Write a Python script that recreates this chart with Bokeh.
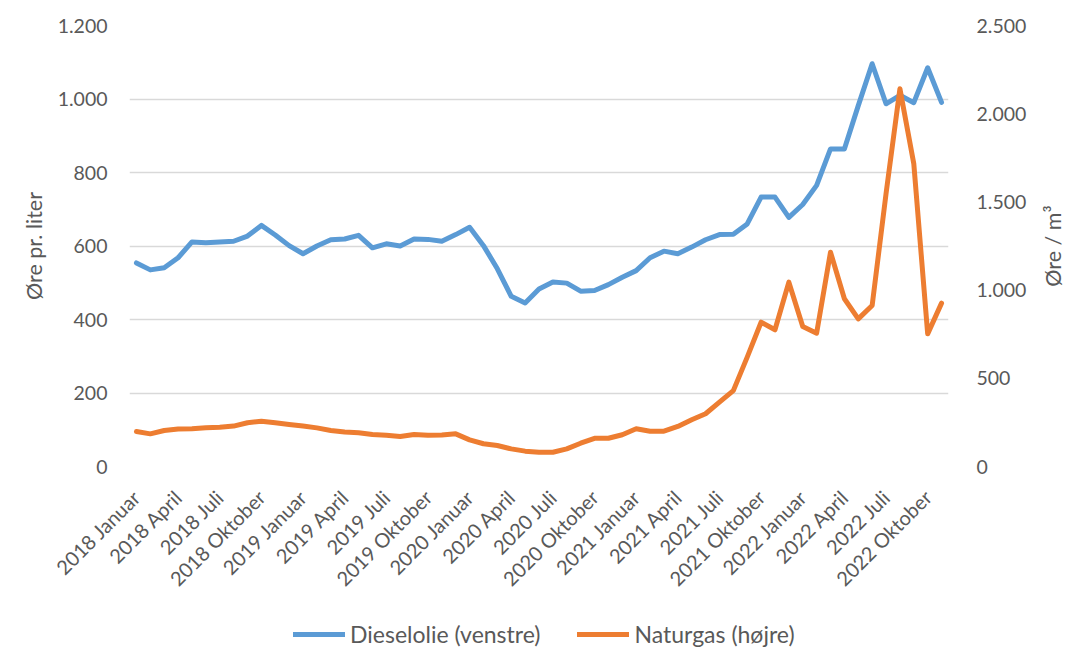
import math
from bokeh.plotting import figure
from bokeh.layouts import column, row
from bokeh.models import (Range1d, LinearAxis, FixedTicker, CustomJSTickFormatter,
                          Legend, LegendItem, Label)
from bokeh.embed import file_html
from bokeh.resources import INLINE

month_names = ["Januar", "Februar", "Marts", "April", "Maj", "Juni", "Juli",
               "August", "September", "Oktober", "November", "December"]
years = [2018, 2019, 2020, 2021, 2022]
periods = [f"{y} {m}" for y in years for m in month_names][:59]

diesel = [554, 535, 541, 568, 611, 609, 611, 613, 627, 656, 630, 601, 579, 600, 617,
          619, 629, 595, 606, 600, 619, 618, 613, 631, 651, 601, 538, 463, 445,
          483, 502, 499, 477, 479, 495, 515, 533, 568, 586, 579, 597, 617, 631, 632,
          660, 733, 733, 678, 713, 765, 864, 864, 982, 1096, 987, 1010, 990, 1085, 991]

naturgas = [198, 185, 204, 212, 214, 219, 223, 229, 248, 257, 248, 238, 229, 219, 204,
            195, 191, 181, 177, 170, 181, 177, 179, 185, 151, 129, 119, 100, 87,
            81, 81, 100, 132, 160, 160, 180, 214, 200, 200, 227, 265, 299, 365, 430,
            620, 818, 775, 1045, 794, 756, 1215, 951, 837, 913, 1546, 2141, 1716, 752, 926]

left_ticks = [0, 200, 400, 600, 800, 1000, 1200]
right_ticks = [0, 500, 1000, 1500, 2000, 2500]
series_names = ["Dieselolie (venstre)", "Naturgas (højre)"]
left_title = "Øre pr. liter"
right_title = "Øre / m³"

FONT = "Lato"
GREY = "#595959"
BLUE = "#5B9BD5"
ORANGE = "#ED7D31"

TOTAL_W, TOTAL_H = 1069, 648
FRAME_L, FRAME_R, FRAME_T, FRAME_B = 129, 950, 25, 466
LEG_H = 40
RIGHT_W = 40
MAIN_W = TOTAL_W - RIGHT_W
MAIN_H = TOTAL_H - LEG_H

x = list(range(len(periods)))

p = figure(width=MAIN_W, height=MAIN_H, output_backend="svg", toolbar_location=None,
           x_range=Range1d(-0.5, len(periods) - 0.5), y_range=Range1d(0, 1200),
           min_border_left=FRAME_L, min_border_right=MAIN_W - FRAME_R,
           min_border_top=FRAME_T, min_border_bottom=MAIN_H - FRAME_B)
p.outline_line_color = None
p.background_fill_color = "white"
p.border_fill_color = "white"
p.extra_y_ranges = {"gas": Range1d(0, 2500)}

fmt = CustomJSTickFormatter(code="""
return Math.round(tick).toString().replace(/\\B(?=(\\d{3})+(?!\\d))/g, '.');
""")

# left axis
ya = p.yaxis[0]
ya.ticker = FixedTicker(ticks=left_ticks)
ya.formatter = fmt
ya.axis_line_color = None
ya.major_tick_line_color = None
ya.minor_tick_line_color = None
ya.major_label_text_font = FONT
ya.major_label_text_font_size = "19.5px"
ya.major_label_text_color = GREY
ya.major_label_standoff = 16
ya.axis_label = left_title
ya.axis_label_text_font = FONT
ya.axis_label_text_font_size = "21.5px"
ya.axis_label_text_font_style = "normal"
ya.axis_label_text_color = GREY
ya.axis_label_standoff = 8

# right axis
ra = LinearAxis(y_range_name="gas", ticker=FixedTicker(ticks=right_ticks), formatter=fmt)
ra.axis_line_color = None
ra.major_tick_line_color = None
ra.minor_tick_line_color = None
ra.major_label_text_font = FONT
ra.major_label_text_font_size = "19.5px"
ra.major_label_text_color = GREY
ra.major_label_standoff = 22
p.add_layout(ra, "right")

# x axis
xa = p.xaxis[0]
xa.ticker = FixedTicker(ticks=list(range(0, len(periods), 3)))
xa.major_label_overrides = {i: periods[i] for i in range(0, len(periods), 3)}
xa.major_label_orientation = math.pi / 4
xa.axis_line_color = None
xa.major_tick_line_color = None
xa.minor_tick_line_color = None
xa.major_label_text_font = FONT
xa.major_label_text_font_size = "20px"
xa.major_label_text_color = GREY
xa.major_label_standoff = 21

p.xgrid.visible = False
p.ygrid.ticker = FixedTicker(ticks=left_ticks)
p.ygrid.grid_line_color = "#d9d9d9"
p.ygrid.grid_line_width = 1.3

p.line(x, diesel, line_color=BLUE, line_width=5, line_join="round", line_cap="round")
p.line(x, naturgas, line_color=ORANGE, line_width=5, line_join="round",
       line_cap="round", y_range_name="gas")

# right title strip
pr = figure(width=RIGHT_W, height=MAIN_H, output_backend="svg", toolbar_location=None,
            x_range=Range1d(0, 1), y_range=Range1d(0, 1200),
            x_axis_location=None, y_axis_location=None,
            min_border_left=0, min_border_right=0,
            min_border_top=FRAME_T, min_border_bottom=MAIN_H - FRAME_B)
pr.grid.visible = False
pr.outline_line_color = None
pr.border_fill_color = "white"
pr.add_layout(Label(x=0.5, y=600, x_offset=3, text=right_title, angle=math.pi / 2,
                    text_align="center", text_baseline="middle",
                    text_font=FONT, text_font_size="21.5px", text_color=GREY))

# legend strip
pl = figure(width=TOTAL_W, height=LEG_H, output_backend="svg", toolbar_location=None,
            x_range=Range1d(0, 1), y_range=Range1d(0, 1),
            x_axis_location=None, y_axis_location=None,
            min_border_left=FRAME_L, min_border_right=TOTAL_W - FRAME_R,
            min_border_top=0, min_border_bottom=0)
pl.grid.visible = False
pl.outline_line_color = None
pl.border_fill_color = "white"
nan = float("nan")
k1 = pl.line([nan], [nan], line_color=BLUE, line_width=5, line_cap="round")
k2 = pl.line([nan], [nan], line_color=ORANGE, line_width=5, line_cap="round")
legend = Legend(items=[LegendItem(label=series_names[0], renderers=[k1]),
                       LegendItem(label=series_names[1], renderers=[k2])],
                orientation="horizontal", location=(293 - FRAME_L, 0),
                label_text_font=FONT, label_text_font_size="23px",
                label_text_color=GREY, glyph_width=52, glyph_height=20,
                label_standoff=5, spacing=37, padding=0, margin=0,
                border_line_color=None, background_fill_alpha=0)
pl.add_layout(legend, "center")

layout = column(row(p, pr, spacing=0), pl, spacing=0)
open("out.html", "w").write(file_html(layout, INLINE))
